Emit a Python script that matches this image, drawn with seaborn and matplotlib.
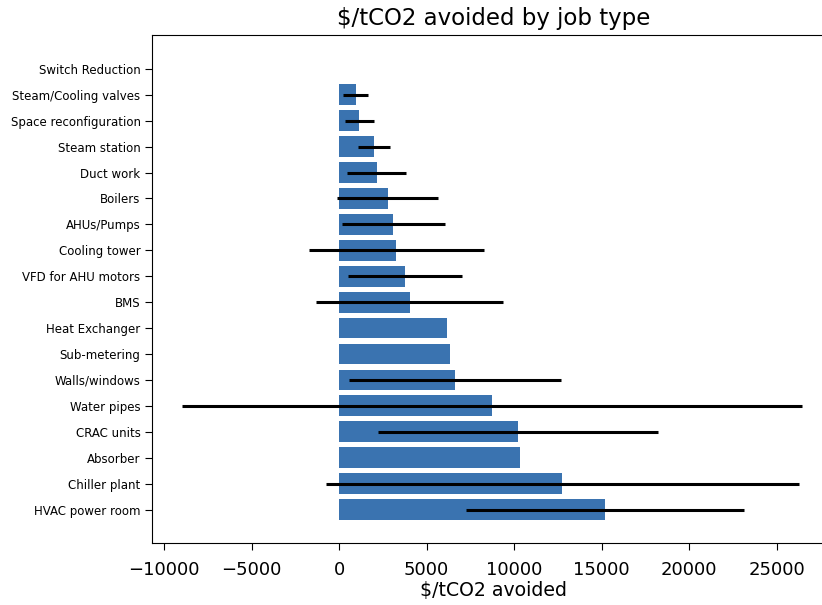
import matplotlib
matplotlib.use("Agg")
import matplotlib.pyplot as plt
import numpy as np
import pandas as pd
import seaborn as sns

# Job types, listed top to bottom as drawn
job_types = [
    "Switch Reduction", "Steam/Cooling valves", "Space reconfiguration",
    "Steam station", "Duct work", "Boilers", "AHUs/Pumps", "Cooling tower",
    "VFD for AHU motors", "BMS", "Heat Exchanger", "Sub-metering",
    "Walls/windows", "Water pipes", "CRAC units", "Absorber",
    "Chiller plant", "HVAC power room",
]
# Mean $/tCO2 avoided per job type
cost_per_tco2 = [
    0, 960, 1150, 2000, 2140, 2770, 3110, 3260, 3760, 4040,
    6170, 6320, 6650, 8750, 10250, 10320, 12760, 15200,
]
# Spread around the mean (NaN where there is only one job)
spread = [
    np.nan, 720, 830, 920, 1670, 2900, 2950, 5000, 3250, 5330,
    np.nan, np.nan, 6060, 17700, 8000, np.nan, 13520, 7960,
]

df = pd.DataFrame({"job": job_types, "cost": cost_per_tco2, "err": spread})

fig = plt.figure(figsize=(8.22, 6.05), dpi=100)
# axes runs slightly past the right edge of the canvas
ax = fig.add_axes([0.1853, 0.102, 0.8297, 0.840])

sns.barplot(data=df, x="cost", y="job", order=job_types, orient="h",
            color="#3a73b0", saturation=1, width=0.8, errorbar=None, ax=ax)

ypos = np.arange(len(job_types))
ax.errorbar(df["cost"], ypos, xerr=df["err"], fmt="none",
            ecolor="black", elinewidth=2.2, capsize=0)

ax.set_xlim(-10670, 28300)
ax.set_ylim(18.3, -1.3)
ax.spines["right"].set_visible(False)
ax.set_xticks([-10000, -5000, 0, 5000, 10000, 15000, 20000, 25000])
ax.tick_params(axis="x", labelsize=13, length=5, pad=8)
ax.tick_params(axis="y", labelsize=8.5, length=5)
ax.set_ylabel("")
ax.set_xlabel("$/tCO2 avoided", fontsize=13.6, labelpad=1.5)
ax.set_title("$/tCO2 avoided by job type", fontsize=16.5, pad=7)

fig.savefig("out.png", dpi=100)
